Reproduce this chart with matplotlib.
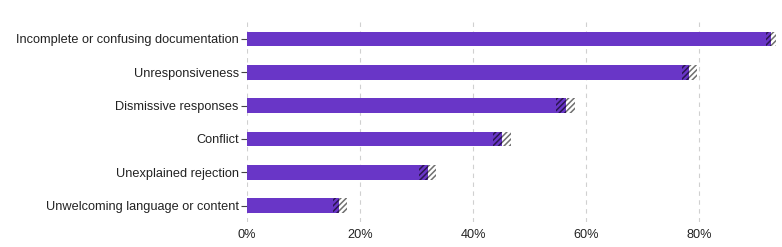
import matplotlib
matplotlib.use("Agg")
import matplotlib.pyplot as plt
import numpy as np

plt.rcParams['font.family'] = ['Liberation Sans', 'DejaVu Sans']
plt.rcParams['hatch.linewidth'] = 1.1

categories = [
    "Incomplete or confusing documentation",
    "Unresponsiveness",
    "Dismissive responses",
    "Conflict",
    "Unexplained rejection",
    "Unwelcoming language or content",
]
# share of respondents (%)
solid = [91.9, 77.0, 54.7, 43.5, 30.4, 15.2]
dark_hatch = [0.8, 1.2, 1.8, 1.6, 1.6, 1.1]
light_hatch = [0.9, 1.4, 1.6, 1.6, 1.5, 1.4]
xticks = [0, 20, 40, 60, 80]

purple = "#6936c7"

fig = plt.figure(figsize=(7.82, 2.47), dpi=100)
ax = fig.add_axes([0.316, 0.10, 0.684, 0.81])

y = np.arange(len(categories))
h = 0.44
ax.barh(y, solid, height=h, color=purple, linewidth=0)
left2 = np.array(solid)
ax.barh(y, dark_hatch, left=left2, height=h, color=purple, hatch="//////",
        edgecolor="#2a1550", linewidth=0)
left3 = left2 + np.array(dark_hatch)
ax.barh(y, light_hatch, left=left3, height=h, color="white", hatch="//////",
        edgecolor="#707070", linewidth=0)

ax.set_ylim(len(categories) - 0.5, -0.5)
ax.set_xlim(0, 94.7)
ax.set_yticks(y)
ax.set_yticklabels(categories, fontsize=9.2, color="#222222")
ax.set_xticks(xticks)
ax.set_xticklabels([f"{t}%" for t in xticks], fontsize=9.2, color="#222222")
ax.tick_params(axis='y', length=4, color="#444444", pad=2)
ax.tick_params(axis='x', length=0, pad=5)
for s in ax.spines.values():
    s.set_visible(False)
ax.set_axisbelow(True)
ax.grid(axis='x', color="#d0d0d0", linestyle=(0, (4, 4)), linewidth=0.8)

fig.savefig("out.png", dpi=100)
